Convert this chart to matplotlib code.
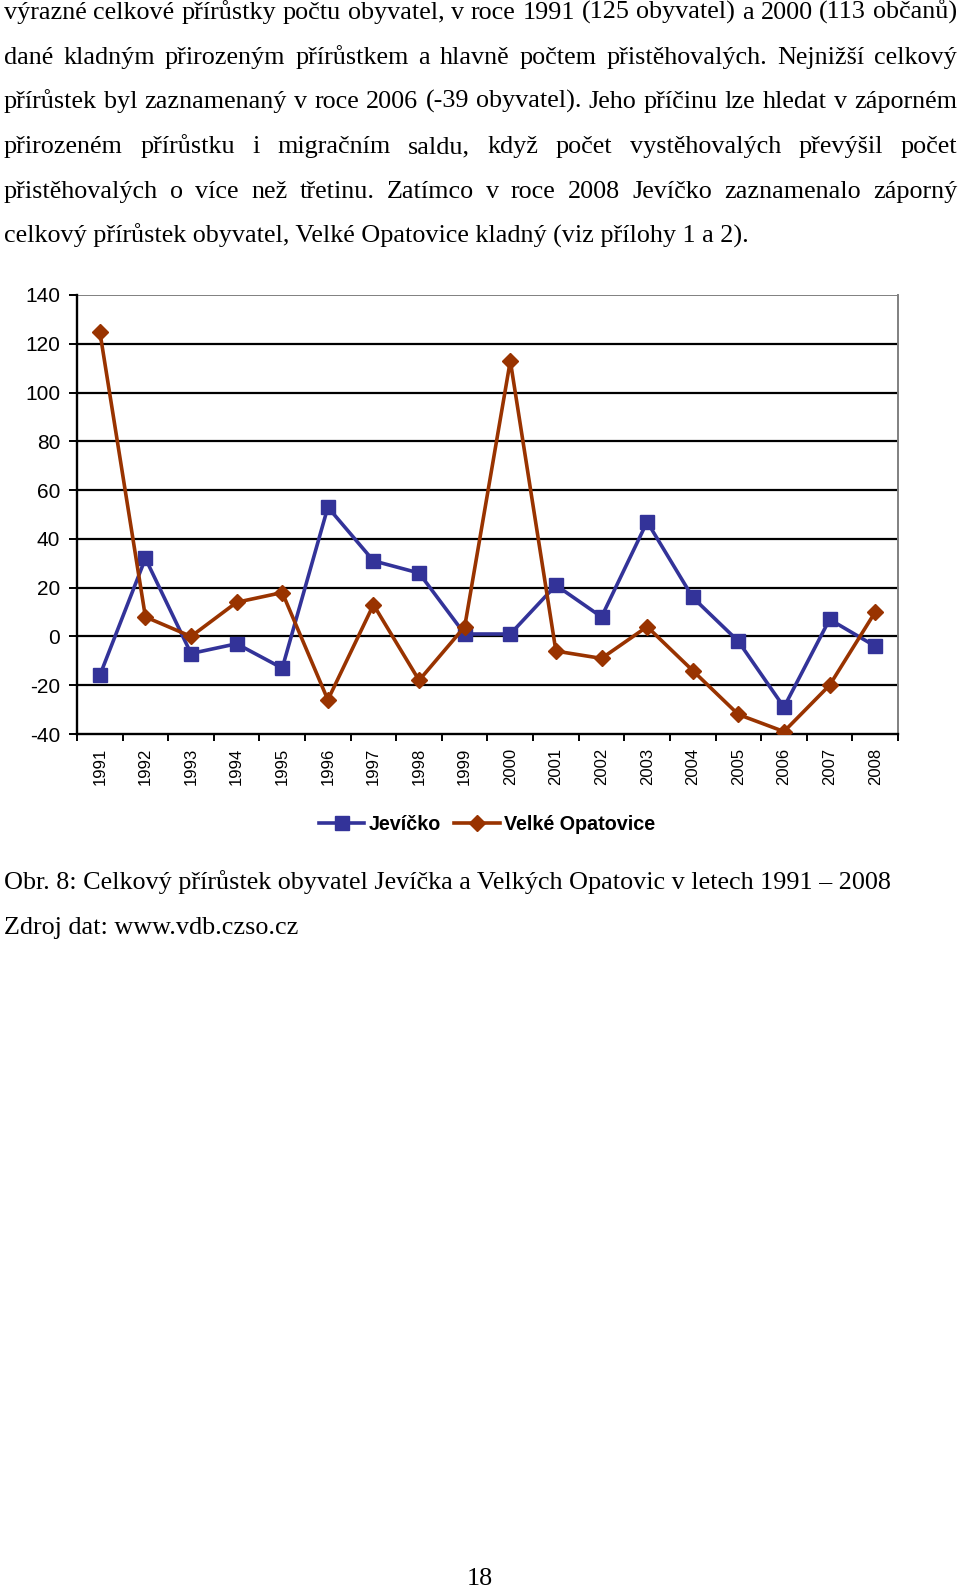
import numpy as np
import matplotlib
matplotlib.use('Agg')
from matplotlib import pyplot as plt

years = [str(y) for y in range(1991, 2009)]
jevicko = [-16, 32, -7, -3, -13, 53, 31, 26, 1, 1, 21, 8, 47, 16, -2, -29, 7, -4]
opatovice = [125, 8, 0, 14, 18, -26, 13, -18, 4, 113, -6, -9, 4, -14, -32, -39, -20, 10]
series_names = ['Jevíčko', 'Velké Opatovice']
y_ticks = [-40, -20, 0, 20, 40, 60, 80, 100, 120, 140]

paragraph = [
    'výrazné celkové přírůstky počtu obyvatel, v roce 1991 (125 obyvatel) a 2000 (113 občanů)',
    'dané kladným přirozeným přírůstkem a hlavně počtem přistěhovalých. Nejnižší celkový',
    'přírůstek byl zaznamenaný v roce 2006 (-39 obyvatel). Jeho příčinu lze hledat v záporném',
    'přirozeném přírůstku i migračním saldu, když počet vystěhovalých převýšil počet',
    'přistěhovalých o více než třetinu. Zatímco v roce 2008 Jevíčko zaznamenalo záporný',
    'celkový přírůstek obyvatel, Velké Opatovice kladný (viz přílohy 1 a 2).',
]
caption = 'Obr. 8: Celkový přírůstek obyvatel Jevíčka a Velkých Opatovic v letech 1991 – 2008'
source = 'Zdroj dat: www.vdb.czso.cz'
page_no = '18'

W, H = 960, 1590
fig = plt.figure(figsize=(W / 100, H / 100), dpi=100)
serif = ['Liberation Serif', 'DejaVu Serif']
sans = ['Liberation Sans', 'DejaVu Sans']
body_size = 18.8

# chart
ax = fig.add_axes([77 / W, 1 - 734 / H, 821 / W, 439 / H])
x = np.arange(len(years))
ax.plot(x, jevicko, color='#333399', lw=2.6, marker='s', markersize=10, label=series_names[0], zorder=3)
ax.plot(x, opatovice, color='#993300', lw=2.6, marker='D', markersize=8, label=series_names[1], zorder=4)
ax.set_xlim(-0.5, len(years) - 0.5)
ax.set_ylim(-40, 140)
ax.set_yticks(y_ticks)
ax.set_yticklabels([str(v) for v in y_ticks], family=sans, fontsize=15)
for v in y_ticks[1:-1]:
    ax.axhline(v, color='black', lw=1.6, zorder=1)
ax.axhline(140, color='#808080', lw=1.4, zorder=1)
ax.set_xticks(np.arange(len(years) + 1) - 0.5)
ax.set_xticklabels([])
ax.set_xticks(x, minor=True)
ax.set_xticklabels(years, minor=True, rotation=90, family=sans, fontsize=12, va='top')
ax.tick_params(axis='x', which='major', length=5, width=1.4, direction='out')
ax.tick_params(axis='x', which='minor', length=0, pad=10)
ax.tick_params(axis='y', length=6, width=1.4, direction='out', pad=6)
ax.spines['left'].set_linewidth(1.7)
ax.spines['bottom'].set_linewidth(1.7)
ax.spines['top'].set_visible(False)
ax.spines['right'].set_color('#808080')
ax.spines['right'].set_linewidth(1.4)

leg = ax.legend(loc='center', bbox_to_anchor=(487 / W, 1 - 824 / H), bbox_transform=fig.transFigure,
                ncol=2, frameon=False, handlelength=2.3, handletextpad=0.2, columnspacing=0.7,
                prop={'family': sans, 'weight': 'bold', 'size': 14.2})

# text on page
renderer = fig.canvas.get_renderer()


def justify(line, base, left=4, right=957):
    words = line.split(' ')
    items = [fig.text(0, 1 - base / H, w, family=serif, fontsize=body_size, va='baseline') for w in words]
    widths = [t.get_window_extent(renderer).width for t in items]
    gap = (right - left - sum(widths)) / (len(words) - 1)
    pos = left
    for t, w in zip(items, widths):
        t.set_x(pos / W)
        pos += w + gap


baselines = [19, 64, 108, 153, 198, 243]
for i, line in enumerate(paragraph):
    if i < len(paragraph) - 1:
        justify(line, baselines[i])
    else:
        fig.text(4 / W, 1 - baselines[i] / H, line, family=serif, fontsize=body_size, va='baseline')

fig.text(4 / W, 1 - 889 / H, caption, family=serif, fontsize=body_size, va='baseline')
fig.text(4 / W, 1 - 934 / H, source, family=serif, fontsize=body_size, va='baseline')
fig.text(480 / W, 1 - 1585 / H, page_no, family=serif, fontsize=body_size, va='baseline', ha='center')

fig.savefig('out.png', dpi=100, facecolor='white')
